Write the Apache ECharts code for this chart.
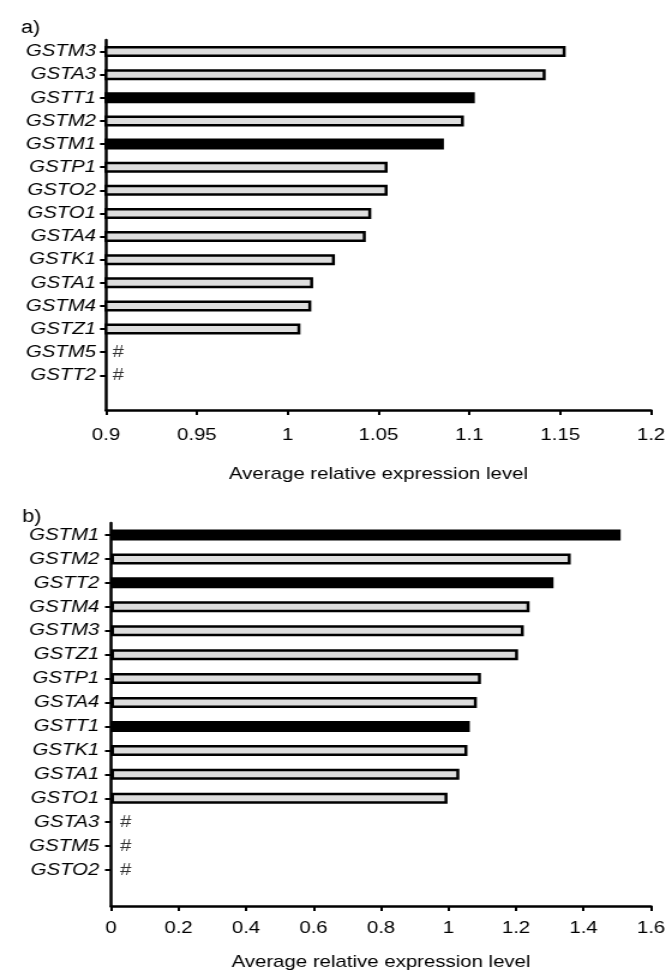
<!DOCTYPE html>
<html>
<head>
<meta charset="utf-8">
<script src="https://cdn.jsdelivr.net/npm/echarts@6/dist/echarts.min.js"></script>
<style>
  html, body { margin: 0; padding: 0; background: #fff; overflow: hidden; }
  #wrap { width: 665px; height: 977px; overflow: hidden; }
  #chart { width: 554.1667px; height: 977px; transform: scaleX(1.2); transform-origin: 0 0; }
</style>
</head>
<body>
<div id="wrap"><div id="chart"></div></div>
<script>
// ---- data ----
const catsA = ['GSTM3','GSTA3','GSTT1','GSTM2','GSTM1','GSTP1','GSTO2','GSTO1','GSTA4','GSTK1','GSTA1','GSTM4','GSTZ1','GSTM5','GSTT2'];
const valsA = [1.153, 1.142, 1.103, 1.097, 1.086, 1.055, 1.055, 1.046, 1.043, 1.026, 1.014, 1.013, 1.007, null, null];
const blackA = ['GSTT1','GSTM1'];

const catsB = ['GSTM1','GSTM2','GSTT2','GSTM4','GSTM3','GSTZ1','GSTP1','GSTA4','GSTT1','GSTK1','GSTA1','GSTO1','GSTA3','GSTM5','GSTO2'];
const valsB = [1.51, 1.362, 1.311, 1.24, 1.223, 1.206, 1.096, 1.084, 1.063, 1.056, 1.032, 0.997, null, null, null];
const blackB = ['GSTM1','GSTT2','GSTT1'];

const axisA = { min: 0.9, max: 1.2, interval: 0.05 };
const axisB = { min: 0, max: 1.6, interval: 0.2 };
const xTitle = 'Average relative expression level';
const panelLabels = ['a)', 'b)'];

// ---- build ----
const FONT = "'Liberation Sans', Arial, sans-serif";
const GRAY = '#dddddd';
const TXT = '#000';

function barData(cats, vals, blacks) {
  return vals.map((v, i) => ({
    value: v,
    itemStyle: { color: blacks.includes(cats[i]) ? '#000' : GRAY }
  })).concat([{ value: null }]);
}
function hashData(cats, vals, axis) {
  const out = [];
  vals.forEach((v, i) => { if (v === null) out.push([axis.min, cats[i]]); });
  return out;
}

function xAxisCfg(idx, ax, labelMargin, nameGap) {
  return {
    gridIndex: idx, type: 'value', min: ax.min, max: ax.max, interval: ax.interval,
    name: xTitle, nameLocation: 'middle', nameGap: nameGap, nameMoveOverlap: false,
    nameTextStyle: { fontFamily: FONT, fontSize: 17, color: TXT },
    axisLine: { show: true, lineStyle: { color: '#000', width: 2.5 } },
    axisTick: { show: true, length: 5, lineStyle: { color: '#000', width: 2 } },
    axisLabel: { fontFamily: FONT, fontSize: 17, color: TXT, margin: labelMargin },
    splitLine: { show: false }
  };
}
function yAxisCfg(idx, cats, margin) {
  return {
    gridIndex: idx, type: 'category', inverse: true, data: cats.concat(['']),
    axisLine: { show: true, lineStyle: { color: '#000', width: 2.5 } },
    axisTick: { show: true, alignWithLabel: true, length: 5,
      interval: (i, v) => v !== '', lineStyle: { color: '#000', width: 2 } },
    axisLabel: { interval: 0, fontFamily: FONT, fontSize: 17, fontStyle: 'italic', color: TXT, margin: margin },
    splitLine: { show: false }
  };
}
function barSeries(idx, cats, vals, blacks) {
  return {
    type: 'bar', xAxisIndex: idx, yAxisIndex: idx, barWidth: 11, clip: true,
    itemStyle: { borderColor: '#000', borderWidth: 2.5 },
    data: barData(cats, vals, blacks), animation: false, silent: true
  };
}
function hashSeries(idx, cats, vals, ax, dist) {
  return {
    type: 'scatter', xAxisIndex: idx, yAxisIndex: idx, symbol: 'circle', symbolSize: 1,
    itemStyle: { color: 'rgba(0,0,0,0)' }, clip: false,
    label: { show: true, position: 'right', distance: dist, formatter: '#',
      fontFamily: FONT, fontSize: 17, color: TXT },
    data: hashData(cats, vals, ax), animation: false, silent: true
  };
}

const chart = echarts.init(document.getElementById('chart'), null, { renderer: 'canvas' });
chart.setOption({
  backgroundColor: '#fff',
  animation: false,
  title: [
    { text: panelLabels[0], left: 12.5, top: 14, textStyle: { fontFamily: FONT, fontSize: 18, fontWeight: 'normal', color: TXT } },
    { text: panelLabels[1], left: 13.5, top: 503, textStyle: { fontFamily: FONT, fontSize: 18, fontWeight: 'normal', color: TXT } }
  ],
  grid: [
    { left: 88.33, top: 40, width: 454.17, height: 370, containLabel: false, outerBoundsMode: 'none' },
    { left: 92.5, top: 523, width: 450, height: 383, containLabel: false, outerBoundsMode: 'none' }
  ],
  xAxis: [ xAxisCfg(0, axisA, 17, 56), xAxisCfg(1, axisB, 14, 48) ],
  yAxis: [ yAxisCfg(0, catsA, 8.3), yAxisCfg(1, catsB, 9.7) ],
  series: [
    barSeries(0, catsA, valsA, blackA),
    hashSeries(0, catsA, valsA, axisA, 5),
    barSeries(1, catsB, valsB, blackB),
    hashSeries(1, catsB, valsB, axisB, 7)
  ]
});
</script>
</body>
</html>
